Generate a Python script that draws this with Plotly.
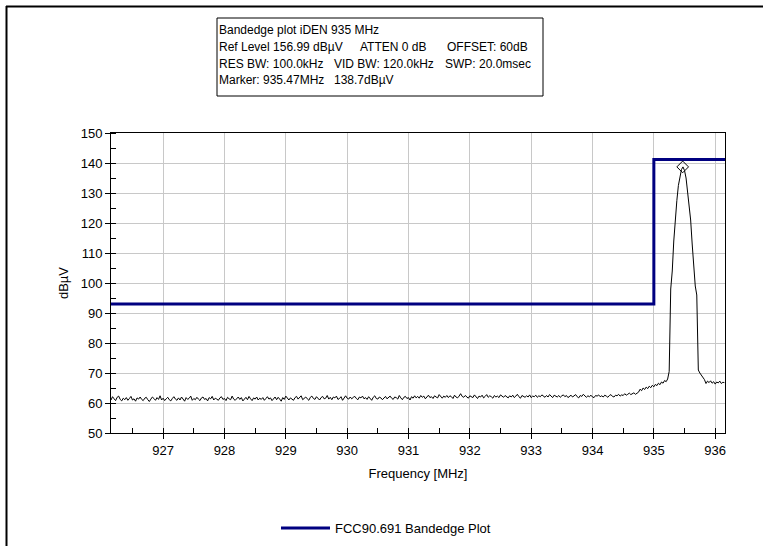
import numpy as np
import plotly.graph_objects as go

# ---------------- data ----------------
f_start = 926.15
f_stop = 936.15
n_points = 401

level_dbuv = [
    61.0, 62.1, 61.4, 60.8, 61.9, 62.3, 61.2, 60.7, 61.6, 61.1, 61.8, 60.9, 61.5, 62.2, 61.0, 61.4, 60.6, 61.7, 61.3, 62.0,
    61.2, 60.8, 61.6, 61.9, 61.1, 60.5, 61.3, 62.0, 61.5, 60.9, 61.8, 61.2, 62.4, 61.0, 61.6, 60.8, 61.4, 61.9, 61.1, 60.7,
    61.5, 62.1, 61.3, 60.9, 61.7, 61.0, 62.0, 61.4, 60.6, 61.8, 61.2, 61.6, 62.3, 60.9, 61.5, 61.1, 61.9, 61.3, 60.8, 61.7,
    62.0, 61.2, 61.5, 60.7, 61.8, 61.4, 62.2, 61.0, 61.6, 61.3, 60.9, 61.7, 62.1, 61.2, 61.5, 60.8, 61.9, 61.4, 61.1, 62.3,
    61.3, 60.9, 61.6, 62.0, 61.2, 61.8, 60.7, 61.5, 61.9, 61.1, 62.2, 61.4, 60.8, 61.7, 61.3, 62.0, 61.0, 61.6, 61.2, 61.8,
    60.9, 61.5, 62.1, 61.3, 61.7, 60.8, 61.4, 62.0, 61.1, 61.9, 61.3, 60.6, 61.8, 61.2, 62.3, 61.5, 61.0, 61.7, 61.4, 60.9,
    61.8, 62.2, 61.3, 61.7, 62.4, 61.1, 61.6, 62.0, 61.4, 60.9, 61.9, 62.3, 61.5, 61.2, 62.1, 61.7, 61.0, 61.8, 62.2, 61.4,
    61.6, 62.5, 61.3, 61.9, 61.1, 62.0, 61.7, 62.3, 61.2, 61.5, 62.1, 60.9, 61.8, 62.4, 61.6, 61.3, 62.0, 61.4, 61.9, 62.2,
    61.5, 61.1, 62.0, 61.7, 62.3, 61.4, 61.8, 61.2, 62.1, 61.6, 60.9, 61.9, 62.4, 61.5, 61.3, 62.0, 61.7, 61.1, 61.8, 62.2,
    61.4, 61.9, 62.3, 61.6, 61.2, 62.0, 61.8, 61.3, 62.5, 61.7, 61.1, 61.9, 62.2, 61.5, 61.8, 61.0, 62.1, 61.6, 62.4, 61.7,
    62.2, 61.6, 62.5, 61.9, 62.3, 61.4, 62.0, 62.6, 61.8, 62.1, 61.5, 62.4, 62.0, 61.7, 62.8, 62.2, 61.6, 62.3, 61.9, 62.5,
    61.8, 62.4, 62.1, 61.5, 62.6, 62.0, 61.7, 62.3, 63.1, 62.2, 61.9, 62.5, 62.0, 61.6, 62.4, 62.1, 61.8, 62.7, 62.0, 61.5,
    62.3, 62.0, 62.6, 61.7, 62.2, 62.8, 61.9, 62.4, 62.1, 61.6, 62.5, 62.0, 62.3, 61.8, 62.7, 62.2, 61.9, 62.5, 62.1, 61.7,
    62.4, 62.0, 62.6, 61.8, 62.3, 62.9, 62.1, 61.6, 62.5, 62.2, 61.9, 62.4, 62.0, 62.7, 61.8, 62.3, 62.1, 62.6, 61.9, 62.4,
    62.1, 62.7, 62.3, 61.9, 62.5, 62.0, 62.8, 62.2, 61.8, 62.6, 62.3, 62.0, 62.5, 61.9, 62.4, 62.7, 62.1, 62.5, 61.8, 62.3,
    62.6, 62.0, 62.4, 62.8, 62.1, 61.7, 62.5, 62.2, 62.9, 62.3, 61.9, 62.4, 62.1, 62.6, 62.0, 61.8, 62.5, 62.3, 62.7, 62.1,
    62.4, 62.0, 62.6, 62.3, 61.9, 62.5, 62.8, 62.2, 62.0, 62.6, 62.4, 62.9, 62.3, 62.7, 62.5, 63.1, 62.6, 62.9, 63.3, 62.8,
    63.0, 63.4, 62.9, 63.2, 63.6, 64.6, 64.1, 65.0, 64.5, 65.3, 64.8, 65.6, 65.1, 65.9, 65.4, 66.2, 65.8, 66.6, 66.1, 67.0,
    66.6, 67.5, 67.1, 68.0, 70.5, 98.0, 104.0, 114.0, 122.5, 127.5, 132.5, 136.0, 137.8, 138.7, 137.5, 135.0, 131.0, 126.0, 121.0, 113.0,
    104.0, 99.0, 96.0, 71.0, 70.0, 69.3, 68.4, 67.8, 66.5, 67.3, 66.8, 67.4, 66.6, 67.1, 66.3, 67.0, 66.7, 67.3, 66.5, 66.9,
    66.8,
]

limit_freq = [926.15, 935.0, 935.0, 936.16]
limit_level = [93.0, 93.0, 141.2, 141.2]

marker_freq = [935.47]
marker_level = [138.7]

x_range = [926.15, 936.16]
y_range = [50, 150]

header_title = "Bandedge plot iDEN 935 MHz"
header_line2 = ["Ref Level 156.99 dBµV", "ATTEN 0 dB", "OFFSET: 60dB"]
header_line3 = ["RES BW: 100.0kHz", "VID BW: 120.0kHz", "SWP: 20.0msec"]
header_line4 = ["Marker: 935.47MHz", "138.7dBµV"]

freq_mhz = np.linspace(f_start, f_stop, n_points)

# ---------------- layout helpers (pixel -> paper) ----------------
W, H = 763, 546
L, R, T, B = 111, 725, 133, 433
PW, PH = R - L, B - T


def px(xp):
    return (xp - L) / PW


def py(yp):
    return (B - yp) / PH


FONT = "Liberation Sans, Arial, sans-serif"

fig = go.Figure()

fig.add_trace(go.Scatter(
    x=freq_mhz, y=level_dbuv, mode="lines",
    line=dict(color="black", width=1), showlegend=False, hoverinfo="x+y",
))
fig.add_trace(go.Scatter(
    x=limit_freq, y=limit_level, mode="lines",
    line=dict(color="#000080", width=3), name="FCC90.691 Bandedge Plot",
))
fig.add_trace(go.Scatter(
    x=marker_freq, y=marker_level, mode="markers",
    marker=dict(symbol="diamond-open", size=9, color="black", line=dict(width=1)),
    showlegend=False,
))

axis_common = dict(
    showline=True, linecolor="black", linewidth=1, mirror=True,
    showgrid=True, gridcolor="#c8c8c8", gridwidth=1,
    ticks="outside", ticklen=5, tickcolor="black", tickwidth=1,
    tickfont=dict(family=FONT, size=13, color="black"),
    zeroline=False,
)

fig.update_xaxes(
    range=x_range, tick0=927, dtick=1,
    minor=dict(dtick=0.5, tick0=926.5, ticks="inside", ticklen=5, tickcolor="black", showgrid=False),
    title=dict(text="Frequency [MHz]", font=dict(family=FONT, size=13, color="black"), standoff=12),
    **axis_common,
)
fig.update_yaxes(
    range=y_range, tick0=50, dtick=10,
    minor=dict(dtick=5, tick0=50, ticks="inside", ticklen=5, tickcolor="black", showgrid=False),
    title=dict(text="dBµV", font=dict(family=FONT, size=13, color="black"), standoff=9),
    **axis_common,
)

shapes = [
    # outer frame (left and top edges)
    dict(type="line", xref="paper", yref="paper", x0=px(6.5), x1=px(6.5), y0=py(6), y1=py(H + 2),
         line=dict(color="black", width=2)),
    dict(type="line", xref="paper", yref="paper", x0=px(6), x1=px(W + 2), y0=py(6.5), y1=py(6.5),
         line=dict(color="black", width=2)),
    # header box
    dict(type="rect", xref="paper", yref="paper", x0=px(217), x1=px(543), y0=py(96), y1=py(18),
         line=dict(color="black", width=1), fillcolor="white"),
]

annotations = []


def add_text(text, xpix, ypix):
    annotations.append(dict(
        text=text, xref="paper", yref="paper", x=px(xpix), y=py(ypix),
        xanchor="left", yanchor="middle", showarrow=False,
        font=dict(family=FONT, size=12, color="black"),
    ))


add_text(header_title, 217, 29.5)
for t, xx in zip(header_line2, [217, 358, 445]):
    add_text(t, xx, 46.5)
for t, xx in zip(header_line3, [217, 332, 443]):
    add_text(t, xx, 63.5)
for t, xx in zip(header_line4, [217, 332]):
    add_text(t, xx, 80.5)

fig.update_layout(
    width=W, height=H,
    margin=dict(l=L, r=W - R, t=T, b=H - B, autoexpand=False),
    paper_bgcolor="white", plot_bgcolor="white",
    font=dict(family=FONT, size=13, color="black"),
    shapes=shapes, annotations=annotations,
    showlegend=True,
    legend=dict(
        orientation="h", x=px(276), y=py(528), xanchor="left", yanchor="middle",
        itemwidth=49,
        font=dict(family=FONT, size=13, color="black"), bgcolor="rgba(0,0,0,0)",
    ),
)

fig.write_html(
    "out.html",
    config={"displayModeBar": False},
    post_script="document.body.style.margin='0';",
)
